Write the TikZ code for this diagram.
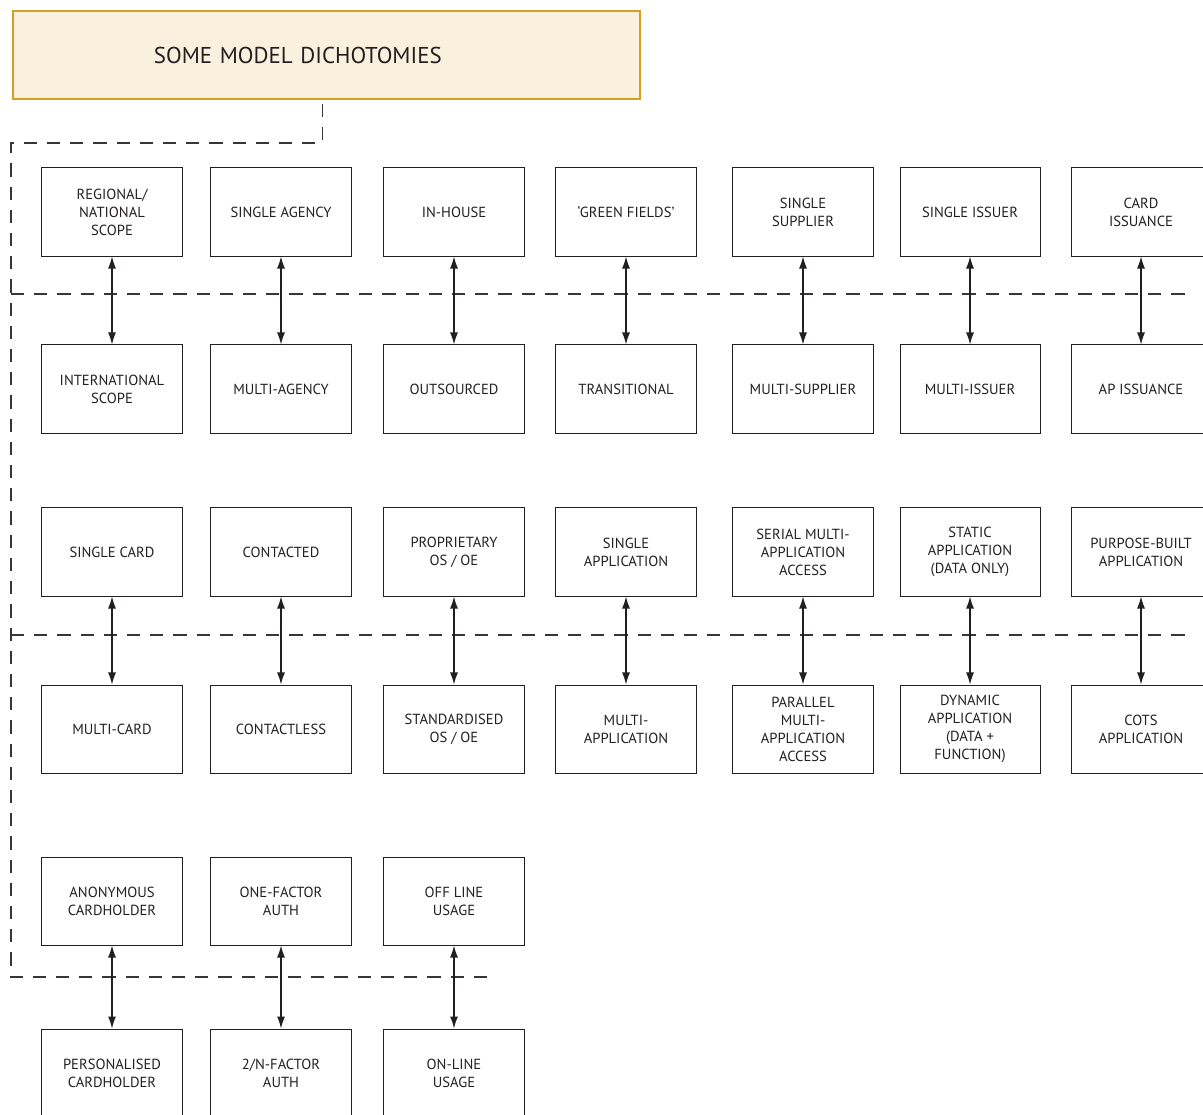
\documentclass[tikz,border=0pt]{standalone}
\usepackage{fontspec}
\setmainfont{PT Sans}
\usepackage{xcolor}
\usetikzlibrary{arrows.meta, positioning}
\definecolor{titlefill}{RGB}{249,240,222}
\definecolor{titleedge}{RGB}{214,160,30}
\definecolor{inkgray}{RGB}{35,31,32}

\begin{document}
\begin{tikzpicture}[
    x=0.025cm, y=-0.025cm,
    box/.style={rectangle, draw=inkgray, line width=0.7pt, minimum width=3.5cm, minimum height=2.2cm, align=center, text=inkgray, inner sep=1pt, font=\fontsize{10.4}{12.8}\selectfont},
    headbox/.style={rectangle, draw=titleedge, fill=titlefill, line width=1.4pt, minimum height=2.2cm, inner xsep=3.525cm, text width=8.625cm, align=left, text=inkgray, font=\fontsize{16.3}{18}\selectfont},
    arrow/.style={<->, >={Latex[length=3mm, width=2mm]}, line width=0.8pt, draw=inkgray},
    divider/.style={draw=inkgray!90, line width=0.75pt, dash pattern=on 0.33cm off 0.25cm}
]
\useasboundingbox (0,0) rectangle (1203,1115);

% Title
\node[headbox] (title) at (326.5,55) {SOME MODEL DICHOTOMIES};

% Dividers
\draw[divider] ([xshift=-0.09cm, yshift=-0.1cm]title.south) -- ++(0,39) -| (11,977) -- (493,977);
\draw[divider] (11,294) -- (1190,294);
\draw[divider] (11,635) -- (1190,635);

% First band
\node[box] (regional) at (112,212) {REGIONAL/\\NATIONAL\\SCOPE};
\node[box] (sagency) at (281,212) {SINGLE AGENCY};
\node[box] (inhouse) at (454,212) {IN-HOUSE};
\node[box] (green) at (626,212) {‘GREEN FIELDS’};
\node[box] (ssupplier) at (803,212) {SINGLE\\SUPPLIER};
\node[box] (sissuer) at (970,212) {SINGLE ISSUER};
\node[box] (cardiss) at (1141,212) {CARD\\ISSUANCE};

\node[box] (intl) at (112,389) {INTERNATIONAL\\SCOPE};
\node[box] (magency) at (281,389) {MULTI-AGENCY};
\node[box] (outsrc) at (454,389) {OUTSOURCED};
\node[box] (trans) at (626,389) {TRANSITIONAL};
\node[box] (msupplier) at (803,389) {MULTI-SUPPLIER};
\node[box] (missuer) at (970,389) {MULTI-ISSUER};
\node[box] (apiss) at (1141,389) {AP ISSUANCE};

% Second band
\node[box] (scard) at (112,552) {SINGLE CARD};
\node[box] (contacted) at (281,552) {CONTACTED};
\node[box] (propos) at (454,552) {PROPRIETARY\\OS / OE};
\node[box] (sapp) at (626,552) {SINGLE\\APPLICATION};
\node[box] (serial) at (803,552) {SERIAL MULTI-\\APPLICATION\\ACCESS};
\node[box] (static) at (970,552) {STATIC\\APPLICATION\\(DATA ONLY)};
\node[box] (purpose) at (1141,552) {PURPOSE-BUILT\\APPLICATION};

\node[box] (mcard) at (112,729) {MULTI-CARD};
\node[box] (contactless) at (281,729) {CONTACTLESS};
\node[box] (stdos) at (454,729) {STANDARDISED\\OS / OE};
\node[box] (mapp) at (626,729) {MULTI-\\APPLICATION};
\node[box] (parallel) at (803,729) {PARALLEL\\MULTI-\\APPLICATION\\ACCESS};
\node[box] (dynamic) at (970,729) {DYNAMIC\\APPLICATION\\(DATA +\\FUNCTION)};
\node[box] (cots) at (1141,729) {COTS\\APPLICATION};

% Third band
\node[box] (anon) at (112,901) {ANONYMOUS\\CARDHOLDER};
\node[box] (onefactor) at (281,901) {ONE-FACTOR\\AUTH};
\node[box] (offline) at (454,901) {OFF LINE\\USAGE};

\node[box] (personal) at (112,1073) {PERSONALISED\\CARDHOLDER};
\node[box] (nfactor) at (281,1073) {2/N-FACTOR\\AUTH};
\node[box] (online) at (454,1073) {ON-LINE\\USAGE};

% Dichotomy arrows
\draw[arrow] (regional) -- (intl);
\draw[arrow] (sagency) -- (magency);
\draw[arrow] (inhouse) -- (outsrc);
\draw[arrow] (green) -- (trans);
\draw[arrow] (ssupplier) -- (msupplier);
\draw[arrow] (sissuer) -- (missuer);
\draw[arrow] (cardiss) -- (apiss);

\draw[arrow] (scard) -- (mcard);
\draw[arrow] (contacted) -- (contactless);
\draw[arrow] (propos) -- (stdos);
\draw[arrow] (sapp) -- (mapp);
\draw[arrow] (serial) -- (parallel);
\draw[arrow] (static) -- (dynamic);
\draw[arrow] (purpose) -- (cots);

\draw[arrow] (anon) -- (personal);
\draw[arrow] (onefactor) -- (nfactor);
\draw[arrow] (offline) -- (online);

\end{tikzpicture}
\end{document}
